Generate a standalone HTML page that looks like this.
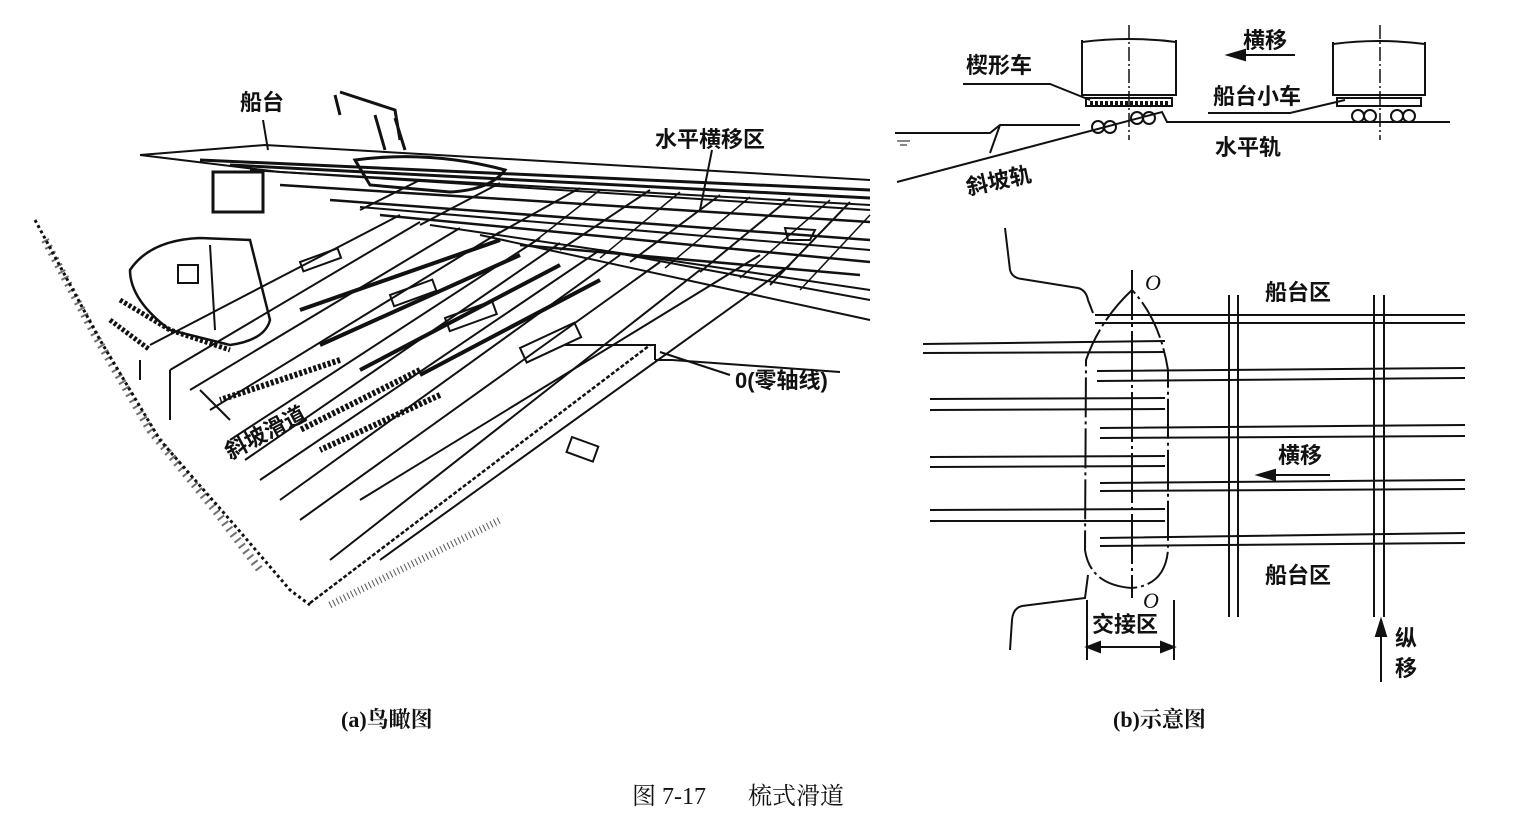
<!DOCTYPE html>
<html><head><meta charset="utf-8"><style>
html,body{margin:0;padding:0;background:#fff;}
body{width:1519px;height:824px;overflow:hidden;position:relative;font-family:"Liberation Serif","Noto Serif CJK SC","Noto Sans CJK SC",serif;}
svg{position:absolute;left:0;top:0;}
</style></head><body>
<svg width="1519" height="824" viewBox="0 0 1519 824" xmlns="http://www.w3.org/2000/svg">
<g stroke="#111" fill="none" stroke-width="2">
<path d="M140 155 L265 145 L870 180"/>
<path d="M140 155 L280 172 L870 205"/>
<path d="M200 160 L870 190" stroke-width="3"/>
<path d="M230 165 L870 198" stroke-width="3"/>
<path d="M250 170 L870 210" stroke-width="2"/>
<path d="M280 185 L870 222" stroke-width="2.5"/>
<path d="M330 200 L870 240" stroke-width="2.5"/>
<path d="M360 207 L870 250"/>
<path d="M380 215 L870 262" stroke-width="2.5"/>
<path d="M430 225 L870 290"/>
<path d="M480 235 L870 320"/>
<path d="M520 245 L860 275" stroke-width="2.5"/>
<path d="M600 250 L870 300"/>
<path d="M420 180 L360 210"/>
<path d="M500 183 L420 225"/>
<path d="M580 188 L490 238"/>
<path d="M650 190 L560 250"/>
<path d="M720 195 L630 262"/>
<path d="M790 198 L700 272"/>
<path d="M850 202 L770 285"/>
<path d="M600 190 L530 245" stroke-width="1.5"/>
<path d="M680 192 L600 258" stroke-width="1.5"/>
<path d="M750 197 L665 268" stroke-width="1.5"/>
<path d="M830 200 L740 278" stroke-width="1.5"/>
<path d="M870 215 L800 290" stroke-width="1.5"/>
<path d="M400 215 L150 345"/>
<path d="M420 222 L170 370"/>
<path d="M460 228 L190 390"/>
<path d="M500 232 L210 410"/>
<path d="M540 238 L230 440"/>
<path d="M560 243 L245 460"/>
<path d="M600 250 L260 480"/>
<path d="M620 255 L280 500"/>
<path d="M660 262 L300 520"/>
<path d="M700 270 L330 560"/>
<path d="M760 255 L360 500"/>
<path d="M790 265 L380 560"/>
<path d="M500 240 L300 310" stroke-width="4"/>
<path d="M520 255 L320 345" stroke-width="4"/>
<path d="M560 265 L360 370" stroke-width="4"/>
<path d="M600 280 L420 375" stroke-width="4"/>
<path d="M420 370 L300 430" stroke-width="6" stroke-dasharray="3 2"/>
<path d="M440 395 L320 450" stroke-width="6" stroke-dasharray="3 2"/>
<path d="M340 360 L220 400" stroke-width="6" stroke-dasharray="3 2"/>
<rect x="445" y="318" width="50" height="14" transform="rotate(-20 445 318)"/>
<rect x="520" y="348" width="60" height="16" transform="rotate(-25 520 348)"/>
<rect x="390" y="295" width="45" height="12" transform="rotate(-20 390 295)"/>
<rect x="300" y="262" width="40" height="10" transform="rotate(-20 300 262)"/>
<path d="M565 345 L655 345 L655 360"/>
<path d="M655 360 L672 360 L840 372"/>
<path d="M130 270 Q150 240 200 238 L250 240 L270 320 Q265 340 230 345 L170 330 Q130 300 130 270Z" stroke-width="2.5"/>
<rect x="178" y="265" width="20" height="18"/>
<path d="M210 245 L215 330"/>
<path d="M120 300 L170 330 L230 350 M110 320 L150 350" stroke-width="5" stroke-dasharray="3 2"/>
<rect x="213" y="172" width="50" height="40" stroke-width="3"/>
<path d="M335 95 L340 115 M340 92 L395 110 L400 140 M375 115 L385 150 M395 118 L405 150" stroke-width="3"/>
<path d="M355 160 Q430 150 505 170 Q490 190 450 192 L370 185Z" stroke-width="3"/>
<path d="M785 228 L815 230 L810 240 L788 240Z"/>
<rect x="572" y="437" width="28" height="16" transform="rotate(20 572 437)"/>
<path d="M35 220 L100 340 L160 440 L230 520 L290 590 L310 605" stroke-width="3" stroke-dasharray="3 3"/>
<path d="M45 240 L95 335 L150 430 L215 510 L260 570" stroke-width="8" stroke-dasharray="2 5" opacity="0.6"/>
<path d="M310 603 L650 345" stroke-width="2.5" stroke-dasharray="4 2"/>
<path d="M330 605 L500 520" stroke-width="7" stroke-dasharray="1 3" opacity="0.7"/>
<path d="M170 370 L170 420 M140 360 L140 380 M200 390 L230 420"/>
<path d="M263 120 L268 150"/>
<path d="M712 150 L700 210"/>
<path d="M660 352 L730 375"/>
</g>
<g font-size="22" fill="#111" font-weight="bold" font-family="'Liberation Sans','Noto Sans CJK SC',sans-serif">
<text x="240" y="110">船台</text>
<text x="655" y="147">水平横移区</text>
<text x="735" y="388">0(零轴线)</text>
<text x="230" y="460" transform="rotate(-28 230 460)">斜坡滑道</text>
</g>

<g stroke="#111" fill="none" stroke-width="2">
<path d="M1082 40 L1082 95 L1176 95 L1176 40 M1082 42 Q1129 36 1176 42"/>
<path d="M1333 42 L1333 95 L1425 95 L1425 42 M1333 44 Q1379 38 1425 44"/>
<rect x="1086" y="98" width="86" height="8"/>
<rect x="1337" y="98" width="84" height="8"/>
<path d="M1090 103 L1168 103" stroke-dasharray="3 2" stroke-width="4"/>
<circle cx="1098" cy="127" r="6"/><circle cx="1110" cy="127" r="6"/>
<circle cx="1137" cy="118" r="6"/><circle cx="1149" cy="118" r="6"/>
<circle cx="1358" cy="116" r="6"/><circle cx="1370" cy="116" r="6"/>
<circle cx="1397" cy="116" r="6"/><circle cx="1409" cy="116" r="6"/>
<path d="M1129 25 L1129 140" stroke-width="1.5" stroke-dasharray="14 3 2 3"/>
<path d="M1380 25 L1380 140" stroke-width="1.5" stroke-dasharray="14 3 2 3"/>
<path d="M897 182 L1162 112 L1167 122 L1450 122"/>
<path d="M895 133 L990 133 L1000 125 L1080 125 M1000 125 L990 153"/>
<path d="M963 84 L1050 84 L1090 100"/>
<path d="M1208 113 L1290 113 L1345 100"/>
<path d="M1295 55 L1235 55"/>
<path d="M1228 55 L1245 50 L1245 60Z" fill="#111"/>
<path d="M897 141 L910 141 M900 145 L907 145" stroke-width="1"/>
</g>
<g font-size="22" fill="#111" font-weight="bold" font-family="'Liberation Sans','Noto Sans CJK SC',sans-serif">
<text x="966" y="73">楔形车</text>
<text x="1243" y="48">横移</text>
<text x="1213" y="104">船台小车</text>
<text x="1215" y="155">水平轨</text>
<text x="968" y="195" transform="rotate(-12 968 195)">斜坡轨</text>
</g>

<g stroke="#111" fill="none" stroke-width="2">
<path d="M1005 228 L1010 270 Q1012 278 1022 279 L1078 288 Q1086 290 1088 300 L1093 313"/>
<path d="M1088 575 L1085 598 L1022 606 Q1013 608 1012 620 L1010 650"/>
<path d="M1132 290 Q1100 320 1086 360 L1085 550 Q1090 585 1132 588 Q1165 585 1168 550 L1168 370 Q1160 320 1132 290Z" stroke-dasharray="40 4 3 4"/>
<path d="M1132 270 L1132 598" stroke-dasharray="50 4 3 4"/>
<path d="M1095 315 L1465 315 M1095 323 L1465 323"/>
<path d="M1097 371 L1465 368 M1097 381 L1465 378"/>
<path d="M1100 428 L1465 425 M1100 438 L1465 436"/>
<path d="M1100 483 L1465 480 M1100 491 L1465 489"/>
<path d="M1100 538 L1465 533 M1100 546 L1465 543"/>
<path d="M923 344 L1165 341 M923 353 L1165 352"/>
<path d="M930 399 L1165 398 M930 410 L1165 409"/>
<path d="M930 457 L1165 456 M930 467 L1165 466"/>
<path d="M930 510 L1165 509 M930 521 L1165 521"/>
<path d="M1229 295 L1229 617 M1238 295 L1238 617"/>
<path d="M1374 295 L1374 617 M1384 295 L1384 617"/>
<path d="M1087 600 L1087 660 M1174 600 L1174 660 M1090 647 L1171 647"/>
<path d="M1087 647 L1100 642 L1100 652Z M1174 647 L1161 642 L1161 652Z" fill="#111"/>
<path d="M1330 475 L1268 475"/>
<path d="M1258 475 L1275 470 L1275 480Z" fill="#111"/>
<path d="M1381 682 L1381 630"/>
<path d="M1381 620 L1376 636 L1386 636Z" fill="#111"/>
</g>
<g font-size="22" fill="#111" font-weight="bold" font-family="'Liberation Sans','Noto Sans CJK SC',sans-serif">
<text x="1145" y="290" font-style="italic" font-weight="normal" font-family="'Liberation Serif',serif">O</text>
<text x="1143" y="608" font-style="italic" font-weight="normal" font-family="'Liberation Serif',serif">O</text>
<text x="1265" y="300">船台区</text>
<text x="1265" y="583">船台区</text>
<text x="1278" y="463">横移</text>
<text x="1092" y="632">交接区</text>
<text x="1395" y="646">纵</text>
<text x="1395" y="676">移</text>
</g>

<g font-size="22" fill="#111" font-weight="bold" font-family="'Liberation Serif','Noto Serif CJK SC',serif">
<text x="341" y="727">(a)鸟瞰图</text>
<text x="1113" y="727">(b)示意图</text>
</g>
<g font-size="24" fill="#111" font-family="'Liberation Serif','Noto Serif CJK SC',serif">
<text x="632" y="804">图 7-17</text>
<text x="748" y="804">梳式滑道</text>
</g>
</svg>
</body></html>
